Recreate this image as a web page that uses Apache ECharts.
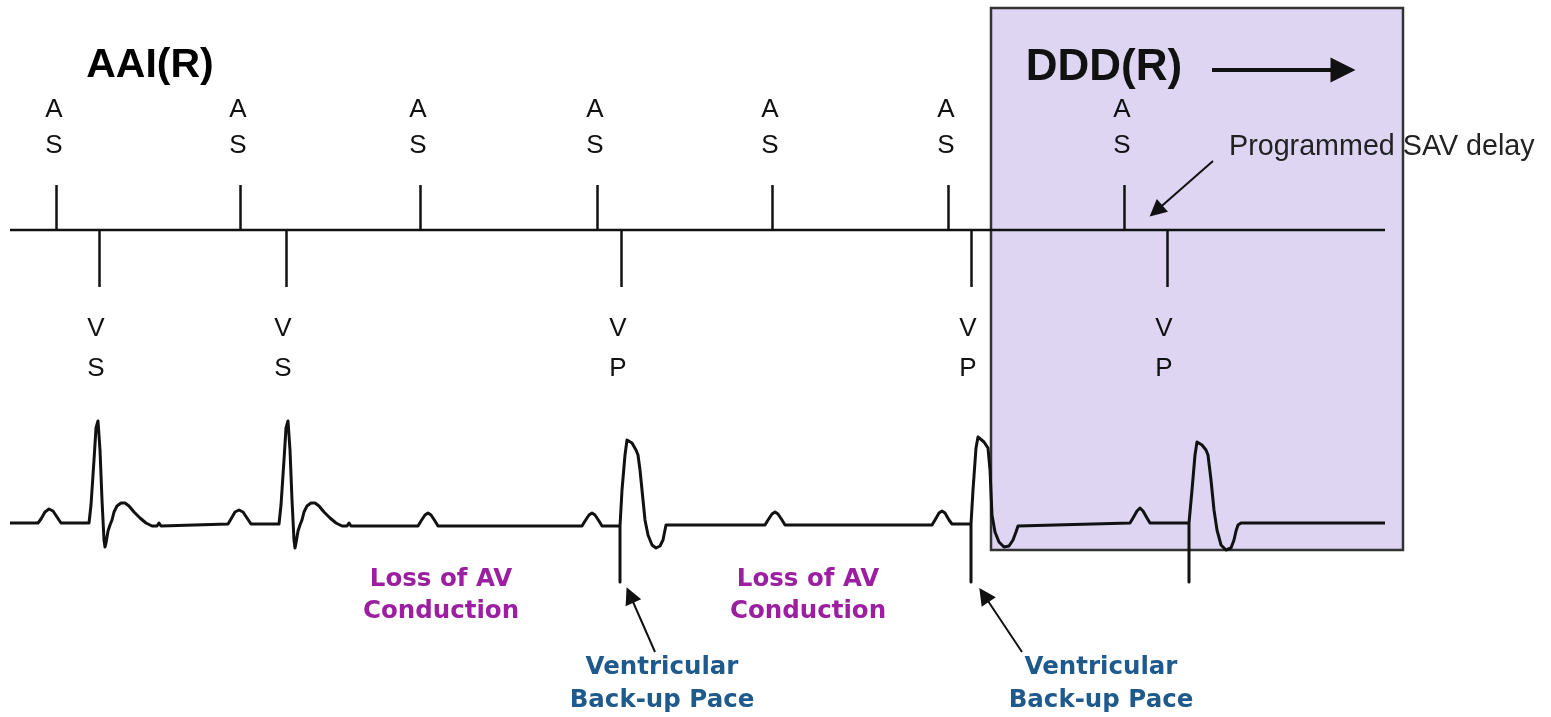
<!DOCTYPE html>
<html>
<head>
<meta charset="utf-8">
<script src="https://cdn.jsdelivr.net/npm/echarts@6/dist/echarts.min.js"></script>
<style>
  html, body { margin: 0; padding: 0; background: #ffffff; }
  #chart { width: 1551px; height: 717px; }
</style>
</head>
<body>
<div id="chart"></div>
<script>
// ---------- data ----------
// atrial sensed events (time positions along the strip)
const asTimes = [56, 240, 420, 597, 772, 948, 1124];
// ventricular events
const vTimes = [99, 286, 621, 971, 1167];
const vTypes = ['S', 'S', 'P', 'P', 'P'];
// ECG trace samples [time, level]
const ecgTrace = [
  [10,523],
  [38,523],[41,519],[45,512],[49,509],[53,511],[57,517],[61,523],
  [89,523],[91,505],[94,460],[96,428],[98,421],[99,423],[100,450],[102,500],[104,540],[105,547],[106,543],[108,531],[110,525],[112,520],[114,512],[117,506],[121,503],[125,503],[129,506],[134,512],[140,518],[146,523],[152,526],[157,526],[159,523],[161,526],
  [228,524],
  [231,519],[235,512],[239,510],[243,512],[247,518],[251,524],
  [279,524],[281,505],[284,460],[286,428],[288,421],[289,423],[290,450],[292,500],[294,540],[295,548],[296,543],[298,531],[300,525],[302,520],[304,512],[307,506],[311,503],[315,503],[319,506],[324,512],[330,518],[336,523],[342,526],[347,526],[349,523],[351,526],
  [418,526],[421,521],[425,515],[428,513],[431,515],[435,521],[438,526],
  [582,526],[585,521],[589,515],[592,513],[595,515],[599,521],[602,526],
  [620,526],[620,582],[620,526],[622,490],[625,455],[627,440],[629,438],[632,443],[636,450],[638,455],[640,470],[643,500],[645,520],[648,535],[652,545],[656,548],[660,546],[663,540],[665,530],[666,525],
  [765,525],[768,520],[772,514],[775,512],[778,514],[782,520],[785,525],
  [932,525],[935,520],[939,513],[942,511],[945,513],[949,520],[952,524],
  [971,524],[971,582],[971,524],[973,490],[976,448],[978,437],[980,437],[984,442],[988,448],[990,470],[992,515],[995,532],[999,542],[1004,547],[1009,546],[1013,540],[1016,532],[1018,526],[1020,524],
  [1130,523],[1133,518],[1137,511],[1140,508],[1143,511],[1147,518],[1150,523],
  [1189,523],[1189,582],[1189,523],[1192,490],[1195,455],[1197,442],[1199,440],[1202,445],[1206,450],[1208,455],[1211,480],[1214,510],[1217,530],[1221,545],[1226,550],[1231,548],[1234,540],[1236,531],[1238,525],[1241,523],
  [1385,523]
];
// ---------- layout constants ----------
const timelineY = 230, asTop = 185, vBottom = 287;
const stripStart = 10, stripEnd = 1385;

const noteFont = 'bold 24.5px "DejaVu Sans", sans-serif';
const texts = [
  { x: 150, y: 66, text: 'AAI(R)', font: 'bold 41px "Liberation Sans", Arial, sans-serif', fill: '#000' },
  { x: 1104, y: 68, text: 'DDD(R)', font: 'bold 44px "Liberation Sans", Arial, sans-serif', fill: '#111' },
  { x: 1229, y: 147, text: 'Programmed SAV delay', font: '28.7px "Liberation Sans", Arial, sans-serif', fill: '#222', align: 'left' },
  { x: 441, y: 596, text: 'Loss of AV\nConduction', font: noteFont, fill: '#9b1fa0', lh: 32 },
  { x: 808, y: 596, text: 'Loss of AV\nConduction', font: noteFont, fill: '#9b1fa0', lh: 32 },
  { x: 662, y: 684, text: 'Ventricular\nBack-up Pace', font: noteFont, fill: '#1f5a8c', lh: 33 },
  { x: 1101, y: 684, text: 'Ventricular\nBack-up Pace', font: noteFont, fill: '#1f5a8c', lh: 33 }
];
asTimes.forEach(t => texts.push({ x: t - 2, y: 128, text: 'A\nS', font: '26px "Liberation Sans", Arial, sans-serif', fill: '#111', lh: 36 }));
vTimes.forEach((t, i) => texts.push({ x: t - 3, y: 349, text: 'V\n' + vTypes[i], font: '26px "Liberation Sans", Arial, sans-serif', fill: '#111', lh: 40 }));

const chart = echarts.init(document.getElementById('chart'));
chart.setOption({
  animation: false,
  backgroundColor: '#ffffff',
  grid: { left: 0, right: 0, top: 0, bottom: 0 },
  xAxis: { type: 'value', min: 0, max: 1551, show: false },
  yAxis: { type: 'value', min: 0, max: 717, inverse: true, show: false },
  series: [
    {
      type: 'custom', z: 0, silent: true,
      data: [[991, 8, 1403, 550]],
      renderItem: function (params, api) {
        const p1 = api.coord([api.value(0), api.value(1)]);
        const p2 = api.coord([api.value(2), api.value(3)]);
        return { type: 'rect', shape: { x: p1[0], y: p1[1], width: p2[0] - p1[0], height: p2[1] - p1[1] },
          style: { fill: '#ddd5f2', stroke: '#333333', lineWidth: 2.5 } };
      }
    },
    {
      type: 'line', z: 3, silent: true, symbol: 'none',
      data: [[stripStart, timelineY], [stripEnd, timelineY]],
      lineStyle: { color: '#111', width: 2.5 }
    },
    {
      type: 'lines', coordinateSystem: 'cartesian2d', z: 3, silent: true,
      data: asTimes.map(t => ({ coords: [[t, timelineY], [t, asTop]] }))
        .concat(vTimes.map(t => ({ coords: [[t, timelineY], [t, vBottom]] }))),
      lineStyle: { color: '#111', width: 2.5, opacity: 1 }
    },
    {
      type: 'line', z: 4, silent: true, symbol: 'none',
      data: ecgTrace,
      lineStyle: { color: '#111', width: 3, join: 'round' }
    },
    {
      type: 'lines', coordinateSystem: 'cartesian2d', z: 5, silent: true,
      symbol: ['none', 'triangle'], symbolSize: 17,
      data: [
        { coords: [[655, 652], [630, 595]] },
        { coords: [[1022, 652], [984, 595]] },
        { coords: [[1213, 161], [1156, 211]] }
      ],
      lineStyle: { color: '#111', width: 2, opacity: 1 }
    },
    {
      type: 'lines', coordinateSystem: 'cartesian2d', z: 5, silent: true,
      symbol: ['none', 'triangle'], symbolSize: 25,
      data: [{ coords: [[1212, 70], [1343, 70]] }],
      lineStyle: { color: '#111', width: 4, opacity: 1 }
    },
    {
      type: 'custom', z: 6, silent: true,
      data: texts.map(d => [d.x, d.y]),
      renderItem: function (params, api) {
        const d = texts[params.dataIndex];
        const p = api.coord([api.value(0), api.value(1)]);
        return { type: 'text', x: p[0], y: p[1],
          style: { text: d.text, font: d.font, fill: d.fill, align: d.align || 'center',
            verticalAlign: 'middle', lineHeight: d.lh || undefined } };
      }
    }
  ]
});
</script>
</body>
</html>
